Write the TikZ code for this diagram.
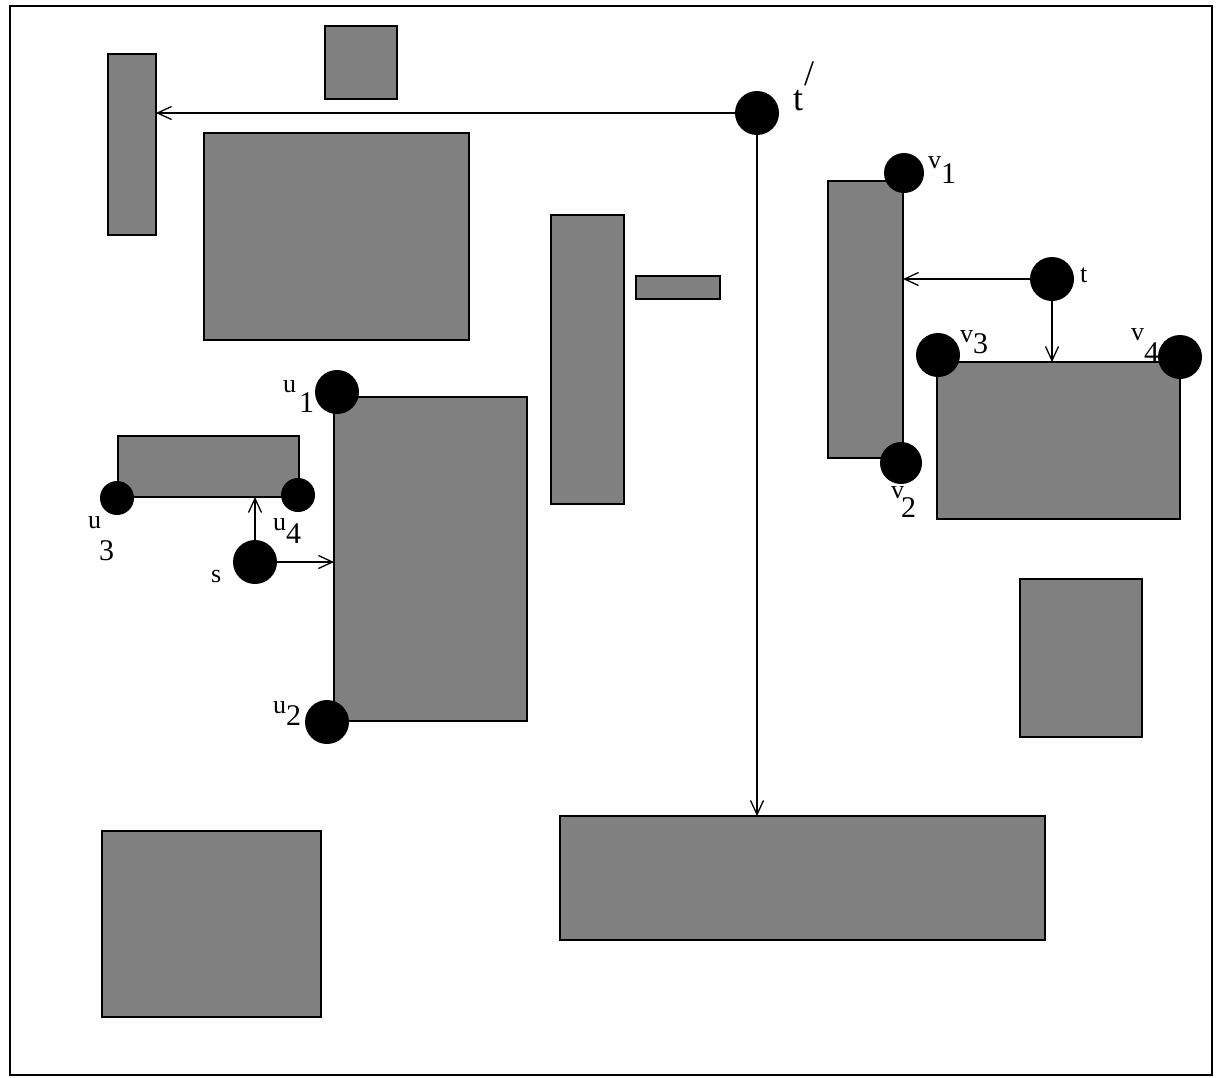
\documentclass[tikz,border=0pt]{standalone}
\usepackage{fontspec}
\setmainfont{Liberation Serif}
\usetikzlibrary{arrows.meta}
\newcommand\dg[2]{\raisebox{-#1pt}{\fontsize{30}{30}\selectfont #2}}
\tikzset{
  blk/.style={draw=black, line width=2.4pt, fill=black!50, inner sep=0pt, outer sep=0pt},
  vdot/.style={circle, fill=black, inner sep=0pt, outer sep=0pt, minimum size=#1},
  vdot/.default=44pt,
  arr/.style={-{Straight Barb[length=14pt,width=13pt]}, line width=1.3pt},
  lab/.style={anchor=base west, inner sep=0pt, font=\fontsize{26}{26}\selectfont},
  frame/.style={line width=1.6pt}
}
\begin{document}
\begin{tikzpicture}[x=1pt,y=-1pt]
\useasboundingbox (0,0) rectangle (1225,1077);
\draw[frame] (10,6) rectangle (1212,1075);
% obstacles
\node[blk, minimum width=48pt,  minimum height=181pt] (R1)  at (132,144.5) {};
\node[blk, minimum width=72pt,  minimum height=73pt]  (R2)  at (361,62.5) {};
\node[blk, minimum width=265pt, minimum height=207pt] (R3)  at (336.5,236.5) {};
\node[blk, minimum width=73pt,  minimum height=289pt] (R4)  at (587.5,359.5) {};
\node[blk, minimum width=84pt,  minimum height=23pt]  (R5)  at (678,287.5) {};
\node[blk, minimum width=181pt, minimum height=61pt]  (R6)  at (208.5,466.5) {};
\node[blk, minimum width=193pt, minimum height=324pt] (R7)  at (430.5,559) {};
\node[blk, minimum width=75pt,  minimum height=277pt] (R8)  at (865.5,319.5) {};
\node[blk, minimum width=243pt, minimum height=157pt] (R9)  at (1058.5,440.5) {};
\node[blk, minimum width=122pt, minimum height=158pt] (R10) at (1081,658) {};
\node[blk, minimum width=219pt, minimum height=186pt] (R11) at (211.5,924) {};
\node[blk, minimum width=485pt, minimum height=124pt] (R12) at (802.5,878) {};
% vertices
\node[vdot]      (tp) at (757,113) {};
\node[vdot=40pt] (v1) at (904,173) {};
\node[vdot]      (t)  at (1052,279) {};
\node[vdot]      (v3) at (938,355) {};
\node[vdot]      (v4) at (1180,357) {};
\node[vdot=42pt] (v2) at (901,463) {};
\node[vdot]      (u1) at (337,392) {};
\node[vdot=34pt] (u3) at (117,498) {};
\node[vdot=34pt] (u4) at (298,495) {};
\node[vdot]      (s)  at (255,562) {};
\node[vdot]      (u2) at (327,722) {};
% connectors
\draw[arr] (tp) -- (tp -| R1.east);
\draw[arr] (tp) -- (tp |- R12.north);
\draw[arr] (t) -- (t -| R8.east);
\draw[arr] (t) -- (t |- R9.north);
\draw[arr] (s) -- (s |- R6.south);
\draw[arr] (s) -- (s -| R7.west);
% labels
\node[lab, font=\fontsize{36}{36}\selectfont] (ltp) at (793,110) {t\kern1pt\raisebox{25pt}{/}};
\node[lab, font=\fontsize{26}{26}\selectfont] (lt) at (1080,282) {t};
\node[lab] (lv1) at (928,168) {v\dg{15}{1}};
\node[lab] (lv3) at (960,342) {v\dg{11}{3}};
\node[lab] (lv4) at (1131,340) {v\dg{22}{4}};
\node[lab] (lv2) at (891,498) {v\kern-3pt\dg{19}{2}};
\node[lab] (lu1) at (283,392) {u\kern3pt\dg{20}{1}};
\node[lab] (lu3) at (88,528) {u\kern-2pt\dg{32}{3}};
\node[lab] (lu4) at (273,530) {u\dg{13}{4}};
\node[lab] (lu2) at (273,713) {u\dg{12}{2}};
\node[lab] (ls) at (211,582) {s};
\end{tikzpicture}
\end{document}
